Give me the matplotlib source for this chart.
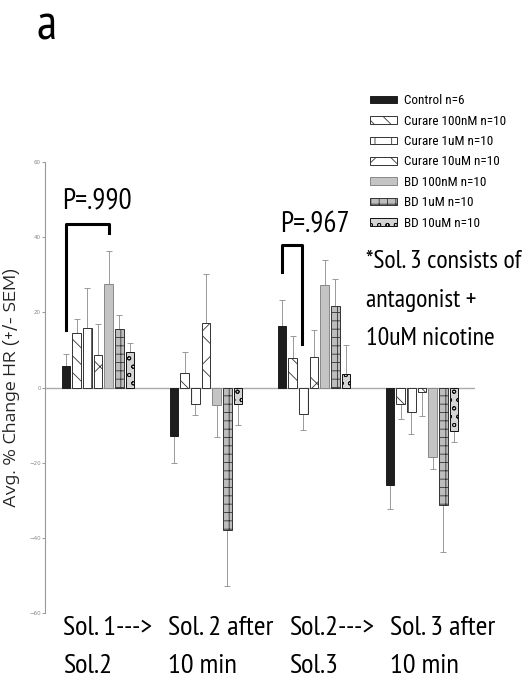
import matplotlib
matplotlib.use("Agg")
import matplotlib.pyplot as plt
import numpy as np

plt.rcParams['hatch.linewidth'] = 0.6

groups = ["Sol. 1--->\nSol.2", "Sol. 2 after\n10 min", "Sol.2--->\nSol.3", "Sol. 3 after\n10 min"]
series = ["Control n=6", "Curare 100nM n=10", "Curare 1uM n=10", "Curare 10uM n=10",
          "BD 100nM n=10", "BD 1uM n=10", "BD 10uM n=10"]
# mean values per series across the 4 groups
control   = [5.6, -12.8, 16.4, -25.9]
cur100nM  = [14.5, 3.8, 7.8, -4.4]
cur1uM    = [15.8, -4.4, -7.0, -6.4]
cur10uM   = [8.7, 17.2, 8.2, -1.1]
bd100nM   = [27.6, -4.6, 27.4, -18.5]
bd1uM     = [15.6, -38.0, 21.7, -31.2]
bd10uM    = [9.4, -4.4, 3.6, -11.6]
# SEM (one-sided, away from zero)
control_e  = [3.2, 7.2, 7.0, 6.5]
cur100nM_e = [3.6, 5.6, 5.9, 4.0]
cur1uM_e   = [10.6, 3.0, 4.3, 6.0]
cur10uM_e  = [8.3, 12.9, 7.0, 6.4]
bd100nM_e  = [8.8, 8.7, 6.5, 3.2]
bd1uM_e    = [3.6, 14.8, 7.1, 12.5]
bd10uM_e   = [2.5, 5.6, 7.6, 2.9]

values = [control, cur100nM, cur1uM, cur10uM, bd100nM, bd1uM, bd10uM]
errors = [control_e, cur100nM_e, cur1uM_e, cur10uM_e, bd100nM_e, bd1uM_e, bd10uM_e]

styles = [
    dict(facecolor="#1e1e1e", hatch=None, edgecolor="#1e1e1e"),
    dict(facecolor="white", hatch="\\\\", edgecolor="#333333"),
    dict(facecolor="white", hatch="|", edgecolor="#333333"),
    dict(facecolor="white", hatch="x", edgecolor="#333333"),
    dict(facecolor="#c4c4c4", hatch=None, edgecolor="#888888"),
    dict(facecolor="#bdbdbd", hatch="++", edgecolor="#333333"),
    dict(facecolor="#d4d4d4", hatch="oo", edgecolor="#111111"),
]

W, H = 522, 682
fig = plt.figure(figsize=(W / 100, H / 100), dpi=100)
ax = fig.add_axes([45 / W, 1 - 613 / H, 430 / W, 451 / H])

cond = ['PT Sans Narrow', 'Roboto Condensed', 'DejaVu Sans']
narrow = ['Roboto Condensed', 'Liberation Sans', 'DejaVu Sans']

x = np.arange(len(groups))
spacing = 0.099
width = 0.079
handles = []
for i, (vals, errs, st) in enumerate(zip(values, errors, styles)):
    pos = x + (i - 3) * spacing
    vals = np.array(vals)
    errs = np.array(errs)
    lower = np.where(vals < 0, errs, 0)
    upper = np.where(vals >= 0, errs, 0)
    b = ax.bar(pos, vals, width, facecolor=st["facecolor"], edgecolor=st["edgecolor"],
               hatch=st["hatch"], linewidth=0.7, label=series[i], zorder=3)
    ax.errorbar(pos, vals, yerr=[lower, upper], fmt="none", ecolor="#999999",
                elinewidth=0.7, capsize=2, capthick=0.7, zorder=2)
    handles.append(b)

ax.axhline(0, color="#aaaaaa", linewidth=1.0, zorder=1)
ax.set_xlim(-0.49, 3.49)
ax.set_ylim(-60, 60)
ax.set_yticks([-60, -40, -20, 0, 20, 40, 60])
ax.tick_params(axis='y', labelsize=4, colors="#888888", length=2, width=0.6, pad=1)
ax.set_xticks([])
for s in ["top", "right", "bottom"]:
    ax.spines[s].set_visible(False)
ax.spines["left"].set_color("#999999")
ax.spines["left"].set_linewidth(0.8)

ax.set_ylabel("Avg. % Change HR (+/- SEM)", fontsize=12, color="#222222",
              family=['Encode Sans Expanded', 'DejaVu Sans'])
ax.yaxis.set_label_coords(-25 / 430, 0.5)

# significance brackets
g0l = 0 - 3 * spacing
g0r = 0 + 1 * spacing
ax.plot([g0l, g0l, g0r, g0r], [15.2, 43.5, 43.5, 41], color="black", linewidth=2.2, zorder=4)
ax.text(g0l - 0.03, 47.7, "P=.990", fontsize=21, family=cond,
        ha="left", va="baseline")
g2l = 2 - 3 * spacing
g2r = 2 - 2 * spacing + 0.085
ax.plot([g2l, g2l, g2r, g2r], [30.7, 38, 38, 11.7], color="black", linewidth=2.2, zorder=4)
ax.text(g2l - 0.02, 41.3, "P=.967", fontsize=21, family=cond,
        ha="left", va="baseline")

ax.text(366 / W, 1 - 345 / H, "*Sol. 3 consists of\nantagonist +\n10uM nicotine",
        transform=fig.transFigure, fontsize=18.5, family=cond,
        ha="left", va="baseline", linespacing=1.85)

# group labels
label_x = [-0.326, 0.649, 1.769, 2.704]
for lx, lab in zip(label_x, groups):
    ax.text(lx, -75.9, lab, fontsize=20.5, family=cond,
            ha="left", va="baseline", linespacing=1.7)

fig.text(37 / W, 1 - 39 / H, "a", fontsize=36, family=cond,
         ha="left", va="baseline")

leg = fig.legend(handles=handles, labels=series, loc="upper left",
                 bbox_to_anchor=(365 / W, 1 - 89 / H), frameon=False,
                 prop={'family': narrow, 'size': 9.5}, handlelength=2.05, handleheight=0.5,
                 labelspacing=0.56, handletextpad=0.5, borderaxespad=0)

fig.savefig("out.png", dpi=100)
